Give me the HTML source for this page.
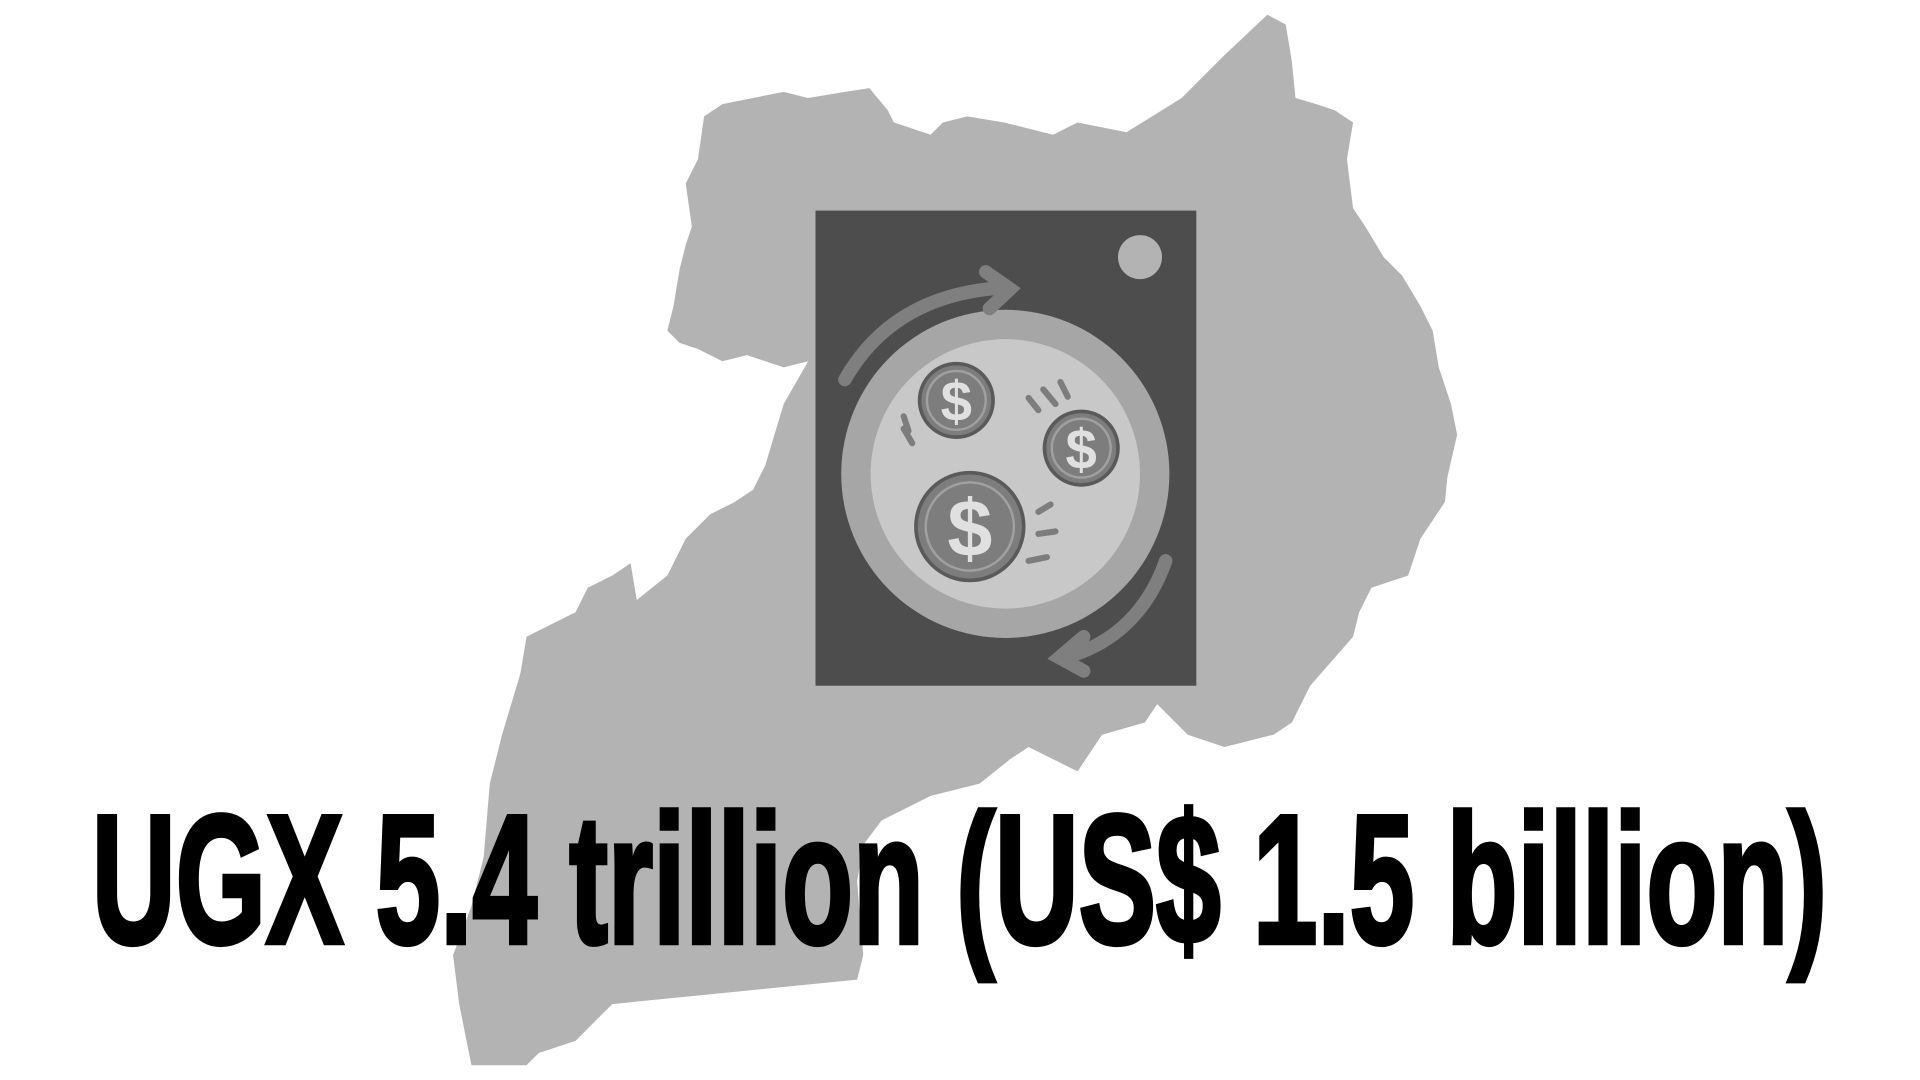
<!DOCTYPE html>
<html><head><meta charset="utf-8"><style>
html,body{margin:0;padding:0;background:#fff;width:1920px;height:1080px;overflow:hidden}
svg{display:block}
</style></head><body>
<svg width="1920" height="1080" viewBox="0 0 1568 882" preserveAspectRatio="none" xmlns="http://www.w3.org/2000/svg">
<polygon fill="#b3b3b3" points="1035,12 1050,20 1055,50 1058,80 1075,85 1090,90 1105,100 1100,130 1105,170 1115,185 1130,210 1145,225 1160,250 1170,270 1175,300 1185,330 1190,355 1182,390 1180,410 1160,440 1150,470 1120,480 1110,500 1105,520 1070,560 1055,590 1040,600 1000,610 970,600 945,575 935,590 900,600 880,630 840,610 825,620 800,640 760,650 720,670 705,690 700,720 705,780 700,800 600,810 500,820 470,850 440,860 430,870 385,870 375,820 370,780 385,740 395,700 400,640 410,600 425,550 430,520 470,500 480,480 500,470 515,460 520,490 545,470 560,440 580,420 600,410 615,400 625,380 640,330 660,295 640,300 610,290 590,295 570,285 555,280 545,270 550,250 555,220 560,200 565,185 560,150 570,130 575,95 590,85 640,75 660,80 690,75 710,72 725,90 730,100 760,110 770,100 790,95 820,100 860,110 880,100 920,108 965,80 1000,45"/>
<g>
<rect x="666" y="172" width="311" height="388" fill="#4d4d4d"/>
<circle cx="931" cy="210" r="18" fill="#b3b3b3"/>
<circle cx="821" cy="387" r="134" fill="#a6a6a6"/>
<circle cx="821" cy="387" r="110" fill="#c8c8c8"/>
<path d="M690,310 Q730,240 820,235" stroke="#7f7f7f" stroke-width="11" fill="none" stroke-linecap="round"/>
<path d="M805,222 L825,236 L808,252" stroke="#7f7f7f" stroke-width="11" fill="none" stroke-linecap="round"/>
<path d="M952,458 Q930,520 870,537" stroke="#7f7f7f" stroke-width="11" fill="none" stroke-linecap="round"/>
<path d="M885,520 L865,537 L885,548" stroke="#7f7f7f" stroke-width="11" fill="none" stroke-linecap="round"/>
<g><circle cx="781" cy="327" r="30" fill="#7d7d7d" stroke="#5a5a5a" stroke-width="3"/><circle cx="781" cy="327" r="24" fill="none" stroke="#a0a0a0" stroke-width="2"/><text x="781" y="344" font-family="Liberation Sans,sans-serif" font-weight="bold" font-size="46" fill="#e0e0e0" text-anchor="middle">$</text></g>
<g><circle cx="883" cy="366" r="30" fill="#7d7d7d" stroke="#5a5a5a" stroke-width="3"/><circle cx="883" cy="366" r="24" fill="none" stroke="#a0a0a0" stroke-width="2"/><text x="883" y="383" font-family="Liberation Sans,sans-serif" font-weight="bold" font-size="46" fill="#e0e0e0" text-anchor="middle">$</text></g>
<g><circle cx="792" cy="430" r="44" fill="#7d7d7d" stroke="#5a5a5a" stroke-width="3"/><circle cx="792" cy="430" r="36" fill="none" stroke="#a0a0a0" stroke-width="2"/><text x="792" y="454" font-family="Liberation Sans,sans-serif" font-weight="bold" font-size="66" fill="#e0e0e0" text-anchor="middle">$</text></g>
<g stroke="#7d7d7d" stroke-width="5" stroke-linecap="round">
<line x1="738" y1="340" x2="742" y2="352"/><line x1="738" y1="350" x2="745" y2="362"/><line x1="840" y1="325" x2="848" y2="335"/><line x1="852" y1="318" x2="862" y2="330"/><line x1="866" y1="312" x2="872" y2="324"/><line x1="848" y1="418" x2="858" y2="412"/><line x1="848" y1="436" x2="862" y2="434"/><line x1="840" y1="458" x2="855" y2="455"/>
</g>
</g>
<text x="75" y="770" textLength="1417" lengthAdjust="spacingAndGlyphs" font-family="Liberation Sans,sans-serif" font-weight="bold" font-size="150" fill="#000" stroke="#000" stroke-width="4">UGX 5.4 trillion (US$ 1.5 billion)</text>
</svg>
</body></html>
